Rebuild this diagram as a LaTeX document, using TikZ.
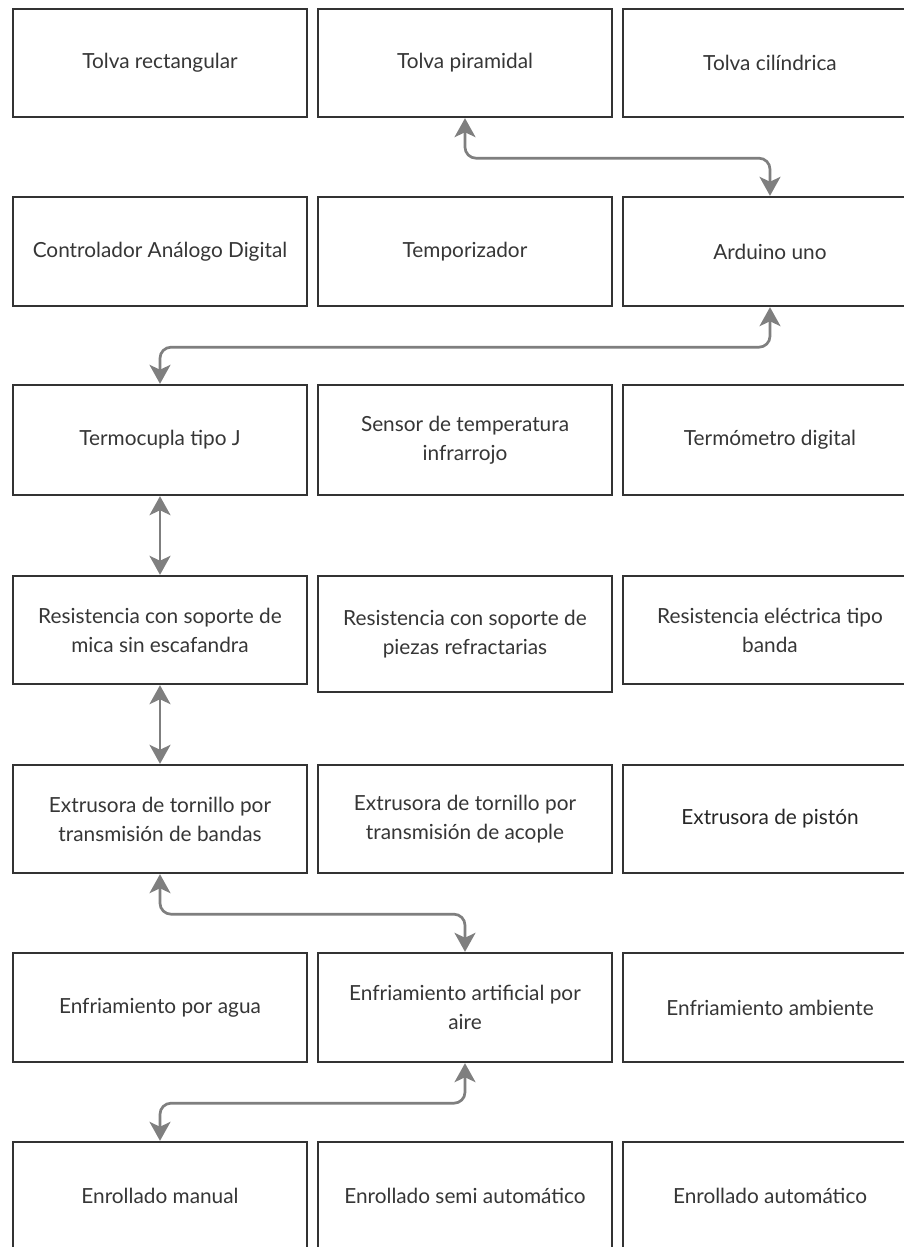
\documentclass[tikz,border=0pt]{standalone}
\usepackage{fontspec}
\setmainfont{Lato}
\usetikzlibrary{arrows.meta}
\definecolor{boxline}{HTML}{333333}
\definecolor{txt}{HTML}{363636}
\definecolor{conn}{HTML}{7F7F7F}
\begin{document}
\begin{tikzpicture}[x=1pt,y=-1pt,
  box/.style={draw=boxline,line width=2.4pt,fill=white,rectangle,inner sep=0pt,
    minimum width=294pt,minimum height=108pt,align=center,text=txt,
    font=\fontsize{20.8}{29}\selectfont},
  tip/.style={Stealth[length=19pt,width=21pt,inset=5pt]},
  link/.style={draw=conn,line width=2.7pt,rounded corners=11pt,
    {Stealth[length=19pt,width=21pt,inset=5pt]}-{Stealth[length=19pt,width=21pt,inset=5pt]}}]
\clip (0,0) rectangle (904,1247);
\fill[white] (0,0) rectangle (904,1247);
% row 1
\node[box] (tr) at (160,63) {Tolva rectangular};
\node[box] (tp) at (465,63) {Tolva piramidal};
\node[box] (tc) at (770,63) {Tolva cilíndrica};
% row 2
\node[box,minimum height=109pt] (cad) at (160,251.5) {Controlador Análogo Digital};
\node[box,minimum height=109pt] (tem) at (465,251.5) {Temporizador};
\node[box,minimum height=109pt] (ard) at (770,251.5) {Arduino uno};
% row 3
\node[box,minimum height=110pt] (tj) at (160,440) {Termocupla tipo J};
\node[box,minimum height=110pt] (sti) at (465,440) {Sensor de temperatura\\infrarrojo};
\node[box,minimum height=110pt] (td) at (770,440) {Termómetro digital};
% row 4
\node[box] (rm) at (160,630) {Resistencia con soporte de\\mica sin escafandra};
\node[box,minimum height=116pt] (rp) at (465,634) {Resistencia con soporte de\\piezas refractarias};
\node[box] (re) at (770,630) {Resistencia eléctrica tipo\\banda};
% row 5
\node[box] (eb) at (160,819) {Extrusora de tornillo por\\transmisión de bandas};
\node[box] (eac) at (465,819) {Extrusora de tornillo por\\transmisión de acople};
\node[box,text=black!85] (ep) at (770,819) {Extrusora de pistón};
% row 6
\node[box,minimum height=109pt] (fa) at (160,1007.5) {Enfriamiento por agua};
\node[box,minimum height=109pt] (ea) at (465,1007.5) {Enfriamiento artificial por\\aire};
\node[box,minimum height=109pt] (fam) at (770,1007.5) {Enfriamiento ambiente};
% row 7
\node[box] (em) at (160,1196) {Enrollado manual};
\node[box] (es) at (465,1196) {Enrollado semi automático};
\node[box] (eau) at (770,1196) {Enrollado automático};
% connectors
\draw[link] (tp.south) -- ++(0,40) -| (ard.north);
\draw[link] (ard.south) -- ++(0,40) -| (tj.north);
\draw[link] (tj.south) -- (rm.north);
\draw[link] (rm.south) -- (eb.north);
\draw[link] (eb.south) -- ++(0,40) -| (ea.north);
\draw[link] (ea.south) -- ++(0,40) -| (em.north);
\end{tikzpicture}
\end{document}
